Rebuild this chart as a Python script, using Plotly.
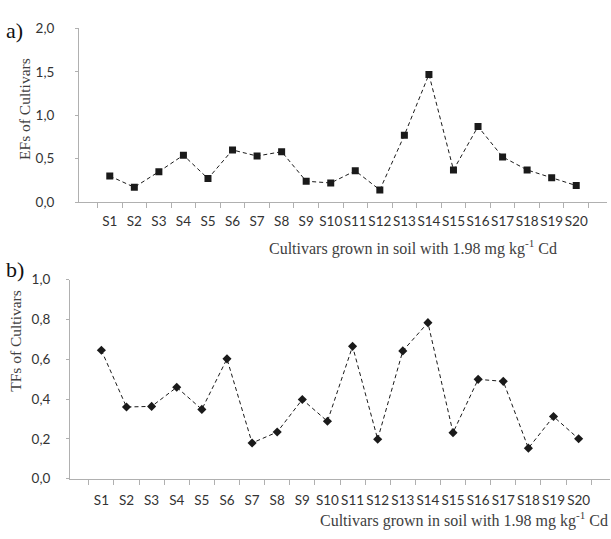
import plotly.graph_objects as go

cultivars = [f"S{i}" for i in range(1, 21)]
ef_values = [0.30, 0.17, 0.35, 0.54, 0.27, 0.60, 0.53, 0.58, 0.24, 0.22,
             0.36, 0.14, 0.77, 1.47, 0.37, 0.87, 0.52, 0.37, 0.28, 0.19]
tf_values = [0.645, 0.36, 0.363, 0.459, 0.348, 0.602, 0.179, 0.234, 0.398, 0.288,
             0.665, 0.198, 0.642, 0.784, 0.231, 0.499, 0.489, 0.153, 0.312, 0.20]
ef_ticks = [0, 0.5, 1.0, 1.5, 2.0]
ef_ticktext = ["0,0", "0,5", "1,0", "1,5", "2,0"]
tf_ticks = [0, 0.2, 0.4, 0.6, 0.8, 1.0]
tf_ticktext = ["0,0", "0,2", "0,4", "0,6", "0,8", "1,0"]

W, H = 611, 539
def px(x): return x / W
def py(y): return 1 - y / H

fig = go.Figure()
fig.add_trace(go.Scatter(x=cultivars, y=ef_values, mode="lines+markers",
                         line=dict(color="#1a1a1a", width=1, dash="4px,3px"),
                         marker=dict(symbol="square", size=7, color="#1a1a1a"),
                         xaxis="x", yaxis="y", showlegend=False))
fig.add_trace(go.Scatter(x=cultivars, y=tf_values, mode="lines+markers",
                         line=dict(color="#1a1a1a", width=1, dash="4px,3px"),
                         marker=dict(symbol="diamond", size=7, color="#1a1a1a"),
                         xaxis="x2", yaxis="y2", showlegend=False))

base = dict(showgrid=False, zeroline=False, showline=True, linecolor="#b0b0b0",
            linewidth=1, ticks="outside", tickcolor="#b0b0b0",
            tickfont=dict(family="Lato", size=13.5, color="#333333"))

fig.update_layout(
    width=W, height=H, margin=dict(l=0, r=0, t=0, b=0),
    paper_bgcolor="white", plot_bgcolor="white",
    xaxis=dict(domain=[px(79), px(607)], anchor="y", type="category",
               tickson="boundaries", tickangle=0, ticklen=5, ticklabelstandoff=7, **base),
    yaxis=dict(domain=[py(200), py(21)], anchor="x", range=[0, 2.0],
               tickvals=ef_ticks, ticktext=ef_ticktext, ticklen=3,
               ticklabelstandoff=18, **base),
    xaxis2=dict(domain=[px(70), px(610)], anchor="y2", type="category",
                tickson="boundaries", tickangle=0, ticklen=5, ticklabelstandoff=9, **base),
    yaxis2=dict(domain=[py(485), py(280)], anchor="x2", range=[0, 1.0],
                tickvals=tf_ticks, ticktext=tf_ticktext, ticklen=3,
                ticklabelstandoff=13, **base),
)

serif_family = "Liberation Serif, Times New Roman, serif"
serif = dict(family=serif_family, size=16, color="#404040")
ann = [
    dict(x=px(4), y=py(23), text="a)", showarrow=False, xanchor="left", yanchor="middle",
         font=dict(family=serif_family, size=22, color="#111111")),
    dict(x=px(4), y=py(270), text="b)", showarrow=False, xanchor="left", yanchor="middle",
         font=dict(family=serif_family, size=22, color="#111111")),
    dict(x=px(25), y=py(104), text="EFs of Cultivars", textangle=-90, showarrow=False,
         xanchor="center", yanchor="middle", font=dict(serif, size=15.5)),
    dict(x=px(16), y=py(343), text="TFs of Cultivars", textangle=-90, showarrow=False,
         xanchor="center", yanchor="middle", font=dict(serif, size=15.5)),
    dict(x=px(413), y=py(247), text="Cultivars grown in soil with 1.98 mg kg<sup>-1</sup> Cd",
         showarrow=False, xanchor="center", yanchor="middle", font=dict(serif)),
    dict(x=px(464), y=py(527), text="Cultivars grown in soil with 1.98 mg kg<sup>-1</sup> Cd",
         showarrow=False, xanchor="center", yanchor="middle", font=dict(serif)),
]
for a in ann:
    a.update(xref="paper", yref="paper")
fig.update_layout(annotations=ann)

fig.write_html("out.html")
